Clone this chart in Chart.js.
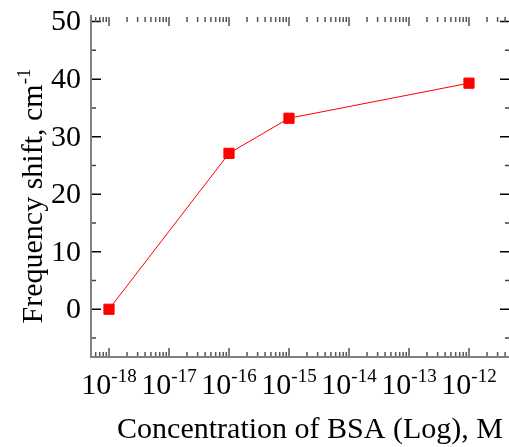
<!DOCTYPE html>
<html>
<head>
<meta charset="utf-8">
<script src="https://cdn.jsdelivr.net/npm/chart.js@4.4.0/dist/chart.umd.min.js"></script>
<style>
  html, body { margin: 0; padding: 0; background: #fff; }
</style>
</head>
<body>
<canvas id="grafico" width="509" height="447"></canvas>
<script>
// dados
var concentracoes = [1e-18, 1e-16, 1e-15, 1e-12]
var deslocamentos = [0, 27.1, 33.2, 39.3]

// ticks
var expoentesX = [-18, -17, -16, -15, -14, -13, -12]
var ticksY = [0, 10, 20, 30, 40, 50]
var ticksMenoresY = [-5, 5, 15, 25, 35, 45]

var tituloX = "Concentration of BSA (Log), M"
var tituloY = "Frequency shift, cm"
var tituloYSup = "-1"

var fonte = '"Liberation Serif", "Times New Roman", serif'
var tamFonte = 30
var tamSup = 19

function textoComExpoente(ctx, base, sup, x, y, tamBase, tamS, alinhar) {
    ctx.font = tamBase + 'px ' + fonte
    var largBase = ctx.measureText(base).width
    ctx.font = tamS + 'px ' + fonte
    var largSup = ctx.measureText(sup).width
    var total = largBase + largSup
    var inicio = alinhar == 'center' ? x - total / 2 : x
    ctx.textAlign = 'left'
    ctx.textBaseline = 'alphabetic'
    ctx.font = tamBase + 'px ' + fonte
    ctx.fillText(base, inicio, y)
    ctx.font = tamS + 'px ' + fonte
    ctx.fillText(sup, inicio + largBase, y - tamBase * 0.4)
}

var eixosPlugin = {
    id: 'eixos',
    afterDraw: function(chart) {
        var ctx = chart.ctx
        var area = chart.chartArea
        var sx = chart.scales.x
        var sy = chart.scales.y
        ctx.save()

        // ticks do eixo y (esquerda e direita)
        ctx.strokeStyle = '#000'
        ctx.lineWidth = 1.5
        ticksY.forEach(function(v) {
            var py = sy.getPixelForValue(v)
            ctx.beginPath()
            ctx.moveTo(area.left, py); ctx.lineTo(area.left + 10, py)
            ctx.moveTo(area.right, py); ctx.lineTo(area.right - 9, py)
            ctx.stroke()
        })
        ctx.strokeStyle = '#444'
        ticksMenoresY.forEach(function(v) {
            var py = sy.getPixelForValue(v)
            ctx.beginPath()
            ctx.moveTo(area.left, py); ctx.lineTo(area.left + 5, py)
            ctx.moveTo(area.right, py); ctx.lineTo(area.right - 4, py)
            ctx.stroke()
        })

        // ticks do eixo x (baixo e cima)
        ctx.strokeStyle = '#555'
        ctx.lineWidth = 1.5
        for (var e = expoentesX[0] - 1; e <= expoentesX[expoentesX.length - 1]; e++) {
            for (var m = 1; m <= 9; m++) {
                var valor = m * Math.pow(10, e)
                if (valor < sx.min || valor > sx.max) continue
                var px = sx.getPixelForValue(valor)
                var tam = m == 1 ? 9 : 5
                ctx.beginPath()
                ctx.moveTo(px, area.bottom); ctx.lineTo(px, area.bottom - tam)
                ctx.moveTo(px, area.top); ctx.lineTo(px, area.top + tam)
                ctx.stroke()
            }
        }

        // linhas dos eixos
        ctx.strokeStyle = '#808080'
        ctx.lineWidth = 2
        ctx.beginPath()
        ctx.moveTo(area.left, area.top - 2)
        ctx.lineTo(area.left, area.bottom)
        ctx.lineTo(area.right, area.bottom)
        ctx.stroke()

        // labels y
        ctx.fillStyle = '#000'
        ctx.font = tamFonte + 'px ' + fonte
        ctx.textAlign = 'right'
        ctx.textBaseline = 'middle'
        ticksY.forEach(function(v) {
            ctx.fillText(String(v), area.left - 10, sy.getPixelForValue(v) + 1)
        })

        // labels x
        expoentesX.forEach(function(e) {
            var px = sx.getPixelForValue(Math.pow(10, e))
            textoComExpoente(ctx, '10', String(e), px, 394, tamFonte, tamSup, 'center')
        })

        // titulo x
        ctx.font = tamFonte + 'px ' + fonte
        ctx.textAlign = 'center'
        ctx.textBaseline = 'alphabetic'
        ctx.fillText(tituloX, 310, 438)

        // titulo y
        ctx.save()
        ctx.translate(42, 196)
        ctx.rotate(-Math.PI / 2)
        ctx.font = tamFonte + 'px ' + fonte
        var l1 = ctx.measureText(tituloY).width
        ctx.font = tamSup + 'px ' + fonte
        var l2 = ctx.measureText(tituloYSup).width
        textoComExpoente(ctx, tituloY, tituloYSup, -(l1 + l2) / 2, 0, tamFonte, tamSup, 'left')
        ctx.restore()

        ctx.restore()
    }
}

var pontos = concentracoes.map(function(c, i) { return { x: c, y: deslocamentos[i] } })

new Chart(document.getElementById('grafico'), {
    type: 'line',
    data: {
        datasets: [{
            data: pontos,
            borderColor: '#ff0000',
            backgroundColor: '#ff0000',
            borderWidth: 1,
            pointStyle: 'rect',
            pointRadius: 7.2,
            pointBorderWidth: 1,
            pointBackgroundColor: '#ff0000',
            pointBorderColor: '#ff0000',
            tension: 0,
            clip: false
        }]
    },
    options: {
        responsive: false,
        devicePixelRatio: 1,
        animation: false,
        layout: { autoPadding: false, padding: { left: 91, right: 0, top: 17, bottom: 90 } },
        plugins: { legend: { display: false }, tooltip: { enabled: false } },
        scales: {
            x: { type: 'logarithmic', min: Math.pow(10, -18.3), max: Math.pow(10, -11.333), display: false },
            y: { type: 'linear', min: -8.3, max: 50.8, display: false }
        }
    },
    plugins: [eixosPlugin]
})
</script>
</body>
</html>
